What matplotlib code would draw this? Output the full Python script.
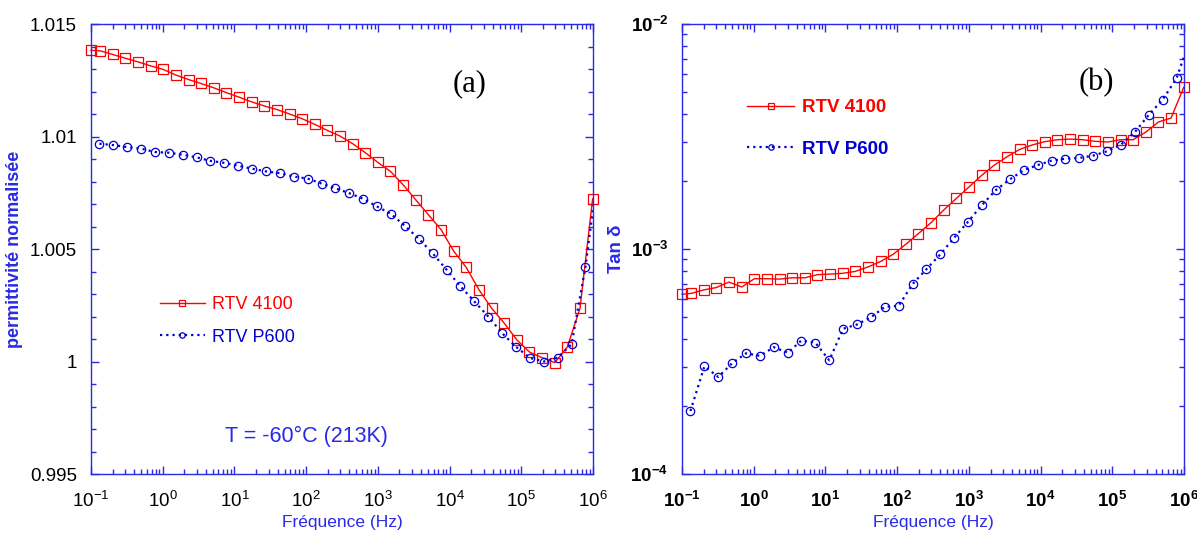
import math
import matplotlib
matplotlib.use("Agg")
import matplotlib.pyplot as plt
from matplotlib.ticker import FixedLocator, LogLocator, FuncFormatter, NullFormatter

plt.rcParams['font.family'] = ['Liberation Sans', 'DejaVu Sans']
plt.rcParams['mathtext.fontset'] = 'custom'
plt.rcParams['mathtext.rm'] = 'Liberation Sans'
plt.rcParams['mathtext.bf'] = 'Liberation Sans:bold'

# frequencies (Hz)
freq_4100 = [0.1, 0.134, 0.2, 0.3, 0.45, 0.68, 1.02, 1.53, 2.3, 3.4, 5.2, 7.7,
             11.6, 17.4, 26, 39, 59, 88, 132, 198, 297, 446, 669, 1000, 1500,
             2260, 3390, 5080, 7620, 11400, 17100, 25700, 38600, 57900, 86800,
             130000, 195000, 293000, 439000, 659000, 988000]
freq_p600 = [0.131, 0.205, 0.32, 0.50, 0.78, 1.22, 1.9, 3.0, 4.6, 7.2, 11.3,
             17.6, 27.5, 43, 67, 105, 164, 256, 400, 625, 976, 1525, 2380,
             3720, 5810, 9080, 14200, 22200, 34600, 54100, 84500, 132000,
             206000, 322000, 503000, 786000, 1230000]

# (a) normalised permittivity
eps_4100 = [1.01383, 1.01381, 1.01365, 1.01348, 1.01332, 1.01314, 1.01298,
            1.01273, 1.01253, 1.01236, 1.01216, 1.01195, 1.01175, 1.01154,
            1.01136, 1.01120, 1.01100, 1.01079, 1.01054, 1.01027, 1.01002,
            1.00968, 1.00928, 1.00885, 1.00845, 1.00785, 1.00718, 1.00652,
            1.00586, 1.00491, 1.00418, 1.00319, 1.00237, 1.00170, 1.00096,
            1.00042, 1.00017, 0.99995, 1.00065, 1.00236, 1.00723]
eps_p600 = [1.00968, 1.00962, 1.00953, 1.00946, 1.00931, 1.00928, 1.00919,
            1.00907, 1.00892, 1.00883, 1.00870, 1.00857, 1.00845, 1.00837,
            1.00822, 1.00813, 1.00791, 1.00770, 1.00748, 1.00723, 1.00689,
            1.00656, 1.00603, 1.00546, 1.00481, 1.00408, 1.00334, 1.00267,
            1.00200, 1.00126, 1.00065, 1.00016, 1.00000, 1.00017, 1.00077,
            1.00421, 1.00900]

# (b) loss factor
tan_4100 = [6.29e-4, 6.35e-4, 6.58e-4, 6.74e-4, 7.13e-4, 6.78e-4, 7.38e-4,
            7.38e-4, 7.35e-4, 7.45e-4, 7.45e-4, 7.69e-4, 7.74e-4, 7.80e-4,
            7.95e-4, 8.32e-4, 8.81e-4, 9.48e-4, 1.050e-3, 1.172e-3, 1.310e-3,
            1.491e-3, 1.680e-3, 1.885e-3, 2.123e-3, 2.360e-3, 2.570e-3,
            2.77e-3, 2.90e-3, 3.00e-3, 3.06e-3, 3.08e-3, 3.06e-3, 3.01e-3,
            2.99e-3, 3.06e-3, 3.06e-3, 3.31e-3, 3.67e-3, 3.82e-3, 5.23e-3]
tan_p600 = [1.907e-4, 3.01e-4, 2.70e-4, 3.11e-4, 3.44e-4, 3.35e-4, 3.66e-4,
            3.46e-4, 3.92e-4, 3.84e-4, 3.20e-4, 4.42e-4, 4.62e-4, 4.97e-4,
            5.53e-4, 5.60e-4, 6.99e-4, 8.14e-4, 9.48e-4, 1.124e-3, 1.324e-3,
            1.570e-3, 1.829e-3, 2.04e-3, 2.24e-3, 2.36e-3, 2.47e-3, 2.52e-3,
            2.54e-3, 2.60e-3, 2.72e-3, 2.91e-3, 3.31e-3, 3.95e-3, 4.61e-3,
            5.74e-3, 8.70e-3]

eps_ticks = [0.995, 1.0, 1.005, 1.01, 1.015]
eps_ticklabels = ['0.995', '1', '1.005', '1.01', '1.015']
eps_minor = [0.996, 0.997, 0.998, 0.999, 1.001, 1.002, 1.003, 1.004, 1.006,
             1.007, 1.008, 1.009, 1.011, 1.012, 1.013, 1.014]

RED = '#ff0000'
BLUE = '#0000d0'
AXBLUE = '#2a2ae6'


def pow10_label(bold):
    cmd = r'\mathbf' if bold else r'\mathrm'
    return FuncFormatter(lambda v, p: r'$%s{10^{%d}}$' % (cmd, round(math.log10(v))))


def style_axes(ax, bold=False):
    ax.set_xscale('log')
    ax.set_xlim(0.1, 1e6)
    for s in ax.spines.values():
        s.set_color(AXBLUE)
        s.set_linewidth(1.0)
    ax.xaxis.set_major_locator(LogLocator(base=10, numticks=10))
    ax.xaxis.set_minor_locator(LogLocator(base=10, subs=range(2, 10), numticks=10))
    ax.xaxis.set_minor_formatter(NullFormatter())
    ax.xaxis.set_major_formatter(pow10_label(bold))
    ax.tick_params(which='both', direction='in', top=True, right=True,
                   color=AXBLUE, labelcolor='black', labelsize=13.5, pad=10)
    ax.tick_params(axis='x', pad=12)
    ax.tick_params(which='major', length=6, width=1)
    ax.tick_params(which='minor', length=3.5, width=1)
    ax.set_xlabel('Fréquence (Hz)', color=AXBLUE, fontsize=12.5, labelpad=3)


fig = plt.figure(figsize=(11.97, 5.35), dpi=100)

# ---- (a)
ax1 = fig.add_axes([0.0760, 0.1140, 0.4194, 0.8411])
ax1.plot(freq_4100, eps_4100, color=RED, lw=1.0, marker='s', ms=7, mfc='none',
         mec=RED, mew=0.9, clip_on=False, label='RTV 4100')
ax1.plot(freq_p600, eps_p600, color=BLUE, lw=1.6, ls=(0, (1, 1.8)), marker='o',
         ms=6, mfc='none', mec=BLUE, mew=0.9, label='RTV P600')
style_axes(ax1)
ax1.set_ylim(0.995, 1.015)
ax1.yaxis.set_major_locator(FixedLocator(eps_ticks))
ax1.yaxis.set_minor_locator(FixedLocator(eps_minor))
ax1.set_yticklabels(eps_ticklabels)
ax1.set_ylabel('permittivité normalisée', color=AXBLUE, fontsize=13,
               fontweight='bold', labelpad=5)
ax1.text(0.755, 0.868, '(a)', transform=ax1.transAxes, fontsize=22,
         family='Liberation Serif', ha='center', va='center')
ax1.text(0.43, 0.083, 'T = -60°C (213K)', transform=ax1.transAxes,
         fontsize=15.5, color=AXBLUE, ha='center', va='center')
ax1.legend(loc='center left', bbox_to_anchor=(0.137, 0.34), frameon=False,
           fontsize=13, labelcolor='linecolor', handlelength=2.5,
           handletextpad=0.4, labelspacing=0.85, borderpad=0, borderaxespad=0,
           markerscale=0.65, numpoints=1)

# ---- (b)
ax2 = fig.add_axes([0.5698, 0.1140, 0.4194, 0.8411])
ax2.plot(freq_4100, tan_4100, color=RED, lw=1.0, marker='s', ms=7, mfc='none',
         mec=RED, mew=0.9, clip_on=False, label='RTV 4100')
ax2.plot(freq_p600, tan_p600, color=BLUE, lw=1.6, ls=(0, (1, 1.8)), marker='o',
         ms=6, mfc='none', mec=BLUE, mew=0.9, label='RTV P600')
ax2.set_yscale('log')
style_axes(ax2, bold=True)
ax2.set_ylim(1e-4, 1e-2)
ax2.yaxis.set_minor_locator(LogLocator(base=10, subs=range(2, 10), numticks=10))
ax2.yaxis.set_minor_formatter(NullFormatter())
ax2.yaxis.set_major_formatter(pow10_label(True))
ax2.set_ylabel('Tan δ', color=AXBLUE, fontsize=13.5, fontweight='bold', labelpad=4)
ax2.text(0.825, 0.87, '(b)', transform=ax2.transAxes, fontsize=22,
         family='Liberation Serif', ha='center', va='center')
leg = ax2.legend(loc='center left', bbox_to_anchor=(0.13, 0.768), frameon=False,
                 fontsize=13.5, labelcolor='linecolor', handlelength=2.5,
                 handletextpad=0.4, labelspacing=1.3, borderpad=0,
                 borderaxespad=0, markerscale=0.65, numpoints=1)
for t in leg.get_texts():
    t.set_fontweight('bold')

fig.savefig('out.png', dpi=100)
